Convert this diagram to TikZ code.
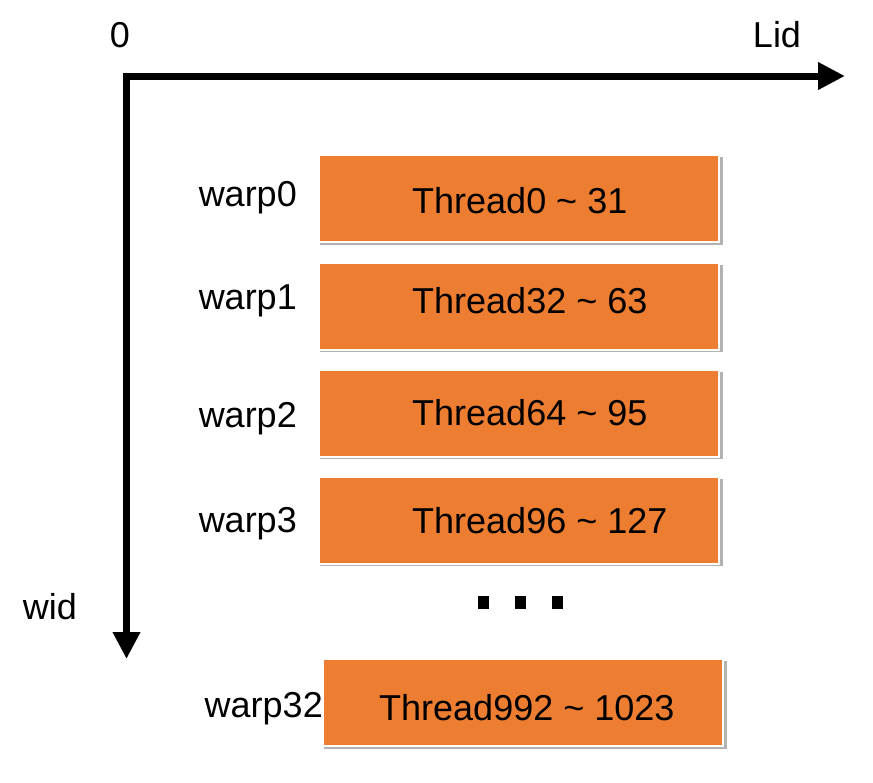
\documentclass[tikz,border=0pt]{standalone}
\usepackage{fontspec}
\setmainfont{Liberation Sans}
\usetikzlibrary{arrows.meta, shadows}
\definecolor{warporange}{HTML}{ED7D31}
\begin{document}
\begin{tikzpicture}[x=1pt, y=-1pt, line join=miter,
    axis/.style={line width=7pt, {Triangle[length=27pt, width=26pt]}-{Triangle[length=27pt, width=26pt]}},
    warpbox/.style={draw=white, line width=2pt, fill=warporange, minimum width=400pt, minimum height=87pt,
        inner sep=0pt, drop shadow={shadow xshift=2.5pt, shadow yshift=-2.5pt, shadow scale=1.008, fill=black, opacity=0.3}},
    bigtext/.style={font=\fontsize{36}{40}\selectfont, inner sep=0pt}]
    \useasboundingbox (0,0) rectangle (873,782);

    % Axes (origin at top left)
    \coordinate (O) at (126.5,76);
    \coordinate (Lidend) at (845,76);
    \coordinate (Widend) at (126.5,659);
    \draw[axis] (Lidend) -- (O) -- (Widend);

    % Axis labels
    \node[bigtext, anchor=base] (zero) at (120,47) {0};
    \node[bigtext, anchor=base] (lid) at (777,47) {Lid};
    \node[bigtext, anchor=base] (wid) at (50,619) {wid};

    % Warp boxes
    \node[warpbox] (w0) at (519,198.5) {};
    \node[warpbox] (w1) at (519,306) {};
    \node[warpbox] (w2) at (519,413) {};
    \node[warpbox] (w3) at (519,520) {};
    \node[warpbox] (w32) at (523,702.5) {};

    % Thread ranges
    \node[bigtext, anchor=base west] (t0) at (412,213) {Thread0 \textasciitilde{} 31};
    \node[bigtext, anchor=base west] (t1) at (412,313.5) {Thread32 \textasciitilde{} 63};
    \node[bigtext, anchor=base west] (t2) at (412,425.5) {Thread64 \textasciitilde{} 95};
    \node[bigtext, anchor=base west] (t3) at (412,533.5) {Thread96 \textasciitilde{} 127};
    \node[bigtext, anchor=base west] (t32) at (379,720.5) {Thread992 \textasciitilde{} 1023};

    % Warp labels
    \node[bigtext, anchor=base east] (l0) at (297,206) {warp0};
    \node[bigtext, anchor=base east] (l1) at (297,309) {warp1};
    \node[bigtext, anchor=base east] (l2) at (297,427) {warp2};
    \node[bigtext, anchor=base east] (l3) at (297,532) {warp3};
    \node[bigtext, anchor=base east] (l32) at (323,717) {warp32};

    % Ellipsis squares
    \foreach \x in {483.5, 520.5, 557.5}
        \fill[black] (\x-5.5,596) rectangle (\x+5.5,609);
\end{tikzpicture}
\end{document}
